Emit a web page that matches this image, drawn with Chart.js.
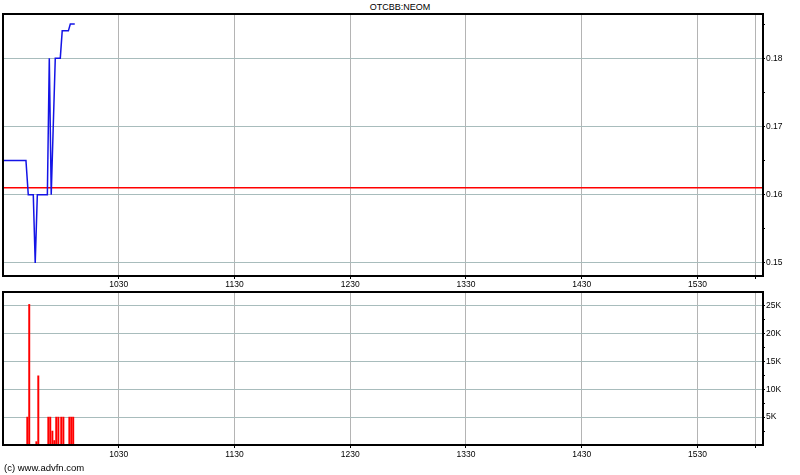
<!DOCTYPE html>
<html>
<head>
<meta charset="utf-8">
<script src="https://cdn.jsdelivr.net/npm/chart.js@4/dist/chart.umd.min.js"></script>
<style>
  body { margin:0; background:#fff; width:800px; height:475px; position:relative; overflow:hidden; font-family:"Liberation Sans", Arial, sans-serif; }
  canvas { position:absolute; left:0; }
  #cPrice { top:0; }
  #cVol { top:285px; }
  .txt { position:absolute; color:#000; white-space:nowrap; }
  #title { left:0; width:800px; text-align:center; top:2px; font-size:9px; line-height:10px; }
  #foot { left:4px; top:462px; font-size:9.5px; line-height:11px; }
</style>
</head>
<body>
<div id="title" class="txt">OTCBB:NEOM</div>
<canvas id="cPrice" width="800" height="290"></canvas>
<canvas id="cVol" width="800" height="190"></canvas>
<div id="foot" class="txt">(c) www.advfn.com</div>
<script>
// minutes after 09:30
const priceMinutes = [0, 11.9, 13.1, 15.7, 16.7, 17.8, 23.0, 24.0, 25.0, 27.1, 29.7, 30.7, 33.9, 34.9, 37.2];
const priceValues  = [0.165, 0.165, 0.16, 0.16, 0.15, 0.16, 0.16, 0.18, 0.16, 0.18, 0.18, 0.184, 0.184, 0.185, 0.185];
const refPrice = 0.161;

const volMinutes = [0, 12.6, 13.6, 17.3, 18.3, 23.5, 24.5, 25.6, 26.6, 27.6, 28.7, 30.2, 31.3, 34.4, 35.4, 36.4];
const volValues  = [300, 5000, 25200, 600, 12400, 5000, 5000, 2500, 800, 5000, 5000, 5000, 5000, 5000, 5000, 5000];

const timeTicks = [60, 120, 180, 240, 300, 360, 390];   // 1030 .. 1530, close
const timeLabels = ['1030', '1130', '1230', '1330', '1430', '1530', ''];
const priceTicks = [0.15, 0.155, 0.16, 0.165, 0.17, 0.175, 0.18, 0.185];
const volTicks = [2500, 5000, 7500, 10000, 12500, 15000, 17500, 20000, 22500, 25000];

const xMax = 394;
const font = { family: '"Liberation Sans", Arial, sans-serif', size: 8.5 };

const frame = {
  id: 'frame',
  afterDraw(chart){
    const a = chart.chartArea, c = chart.ctx;
    c.save();
    c.strokeStyle = '#000';
    c.lineWidth = 2;
    c.strokeRect(a.left, a.top, a.right - a.left, a.bottom - a.top);
    c.restore();
  }
};

function xScale(h, pad){
  return {
    type: 'linear', min: 0, max: xMax, offset: false,
    afterBuildTicks: s => { s.ticks = timeTicks.map(v => ({ value: v })); },
    afterFit: s => { s.height = h; },
    ticks: { autoSkip:false, maxRotation:0, padding: pad, color:'#000', font,
             callback: (v, i) => timeLabels[i] },
    grid: { offset:false, color:'#b4b4b4', lineWidth:1, tickLength:3, tickColor:'#000' },
    border: { display:false }
  };
}

new Chart(document.getElementById('cPrice'), {
  type: 'line',
  data: {
    datasets: [
      { data: priceMinutes.map((m, i) => ({ x: m, y: priceValues[i] })),
        borderColor: 'rgb(20,20,230)', borderWidth: 1.5, pointRadius: 0, tension: 0 },
      { data: [{ x: 0, y: refPrice }, { x: xMax, y: refPrice }],
        borderColor: '#ff0000', borderWidth: 1.5, pointRadius: 0 }
    ]
  },
  options: {
    responsive:false, animation:false, devicePixelRatio:1,
    layout: { padding: { left:3, top:14, right:0, bottom:0 } },
    plugins: { legend:{ display:false }, tooltip:{ enabled:false } },
    scales: {
      x: xScale(14, 1),
      y: {
        position:'right', min:0.14809, max:0.18647,
        afterBuildTicks: s => { s.ticks = priceTicks.map(v => ({ value: v })); },
        afterFit: s => { s.width = 37; },
        ticks: { padding:1, color:'#000', font,
                 callback: v => (Math.round(v * 1000) % 10 === 0 ? v.toFixed(2) : '') },
        grid: { color: c => (Math.round(c.tick.value * 1000) % 10 === 0 ? '#a8bcbc' : 'rgba(0,0,0,0)'),
                tickLength:2, tickColor:'#000' },
        border: { display:false }
      }
    }
  },
  plugins: [frame]
});

new Chart(document.getElementById('cVol'), {
  type: 'bar',
  data: {
    datasets: [
      { data: volMinutes.map((m, i) => ({ x: m, y: volValues[i] })),
        backgroundColor: '#ff0000', barThickness: 1.3 }
    ]
  },
  options: {
    responsive:false, animation:false, devicePixelRatio:1,
    layout: { padding: { left:3, top:7, right:0, bottom:0 } },
    plugins: { legend:{ display:false }, tooltip:{ enabled:false } },
    scales: {
      x: xScale(30, 2),
      y: {
        position:'right', min:0, max:27430,
        afterBuildTicks: s => { s.ticks = volTicks.map(v => ({ value: v })); },
        afterFit: s => { s.width = 37; },
        ticks: { padding:1, color:'#000', font,
                 callback: v => (v % 5000 === 0 ? (v / 1000) + 'K' : '') },
        grid: { color: c => (c.tick.value % 5000 === 0 ? '#a8bcbc' : 'rgba(0,0,0,0)'),
                tickLength:2, tickColor:'#000' },
        border: { display:false }
      }
    }
  },
  plugins: [frame]
});
</script>
</body>
</html>
